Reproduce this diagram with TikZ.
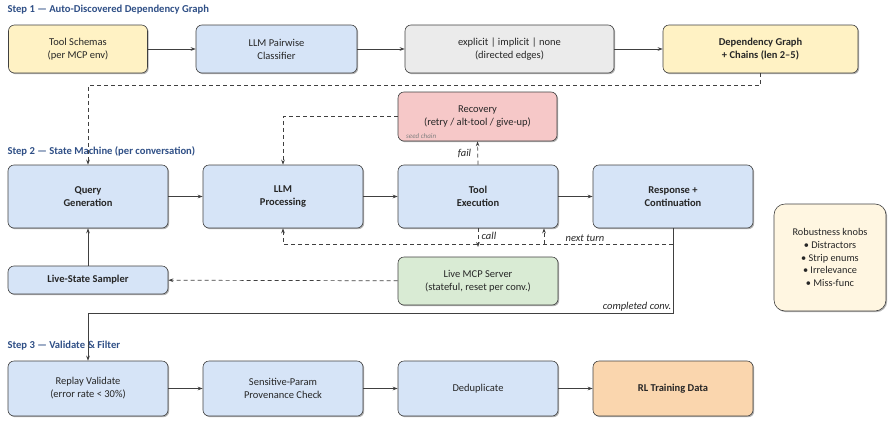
\documentclass[tikz,border=0pt]{standalone}
\usepackage{fontspec}
\setmainfont{Carlito}
\usepackage{tikz}
\usetikzlibrary{positioning,arrows.meta,calc,shadows}
\definecolor{pbblue}{HTML}{D6E4F7}
\definecolor{pbyellow}{HTML}{FFF2C4}
\definecolor{pbgray}{HTML}{EBEBEB}
\definecolor{pbpink}{HTML}{F6C8C8}
\definecolor{pbgreen}{HTML}{D9EBD4}
\definecolor{pborange}{HTML}{FAD6AE}
\definecolor{pbcream}{HTML}{FFF6E1}
\definecolor{pbtitle}{HTML}{2F4F86}
\definecolor{pbline}{HTML}{404040}

\begin{document}
\begin{tikzpicture}[x=1pt,y=-1pt,font=\fontsize{10.5}{13}\selectfont,
  box/.style={draw=pbline,line width=0.6pt,rounded corners=6pt,align=center,
    minimum width=160pt,minimum height=63pt,inner sep=2pt,text=black!85,
    drop shadow={shadow xshift=1.2pt,shadow yshift=-1.2pt,opacity=0.3,fill=black}},
  boldbox/.style={box,font=\fontsize{10.5}{13}\selectfont\bfseries},
  flow/.style={draw=pbline,line width=0.7pt,-{Stealth[length=5pt,width=3.6pt]}},
  dflow/.style={flow,dash pattern=on 4pt off 3pt},
  steptitle/.style={anchor=west,font=\fontsize{10.6}{12}\selectfont\bfseries,text=pbtitle},
  edgelbl/.style={font=\fontsize{10.5}{12}\selectfont\itshape,text=black!85}]
  \useasboundingbox (0,0) rectangle (894,426);
  % step 1
  \node[steptitle] (t1) at (4,10) {Step 1 --- Auto-Discovered Dependency Graph};
  \node[box,fill=pbyellow,minimum width=139pt,minimum height=48pt] (schemas) at (78,49) {Tool Schemas\\(per MCP env)};
  \node[box,fill=pbblue,minimum width=161pt,minimum height=48pt] (pairwise) at (276.5,49) {LLM Pairwise\\Classifier};
  \node[box,fill=pbgray,minimum width=209pt,minimum height=48pt] (edgetype) at (509.5,49) {explicit \textbar{} implicit \textbar{} none\\(directed edges)};
  \node[boldbox,fill=pbyellow,minimum width=195pt,minimum height=48pt] (depgraph) at (760.5,49) {Dependency Graph\\+ Chains (len 2--5)};
  % step 2
  \node[steptitle] (t2) at (4,151) {Step 2 --- State Machine (per conversation)};
  \node[box,fill=pbpink,minimum width=159pt,minimum height=49pt] (recovery) at (477.5,116.5) {Recovery\\(retry / alt-tool / give-up)};
  \node[anchor=south west,inner sep=0pt,font=\fontsize{7}{8}\selectfont\itshape,text=black!50] (seed) at (406,139) {seed chain};
  \node[boldbox,fill=pbblue] (querygen) at (88,196.5) {Query\\Generation};
  \node[boldbox,fill=pbblue] (llmproc) at (283,196.5) {LLM\\Processing};
  \node[boldbox,fill=pbblue] (toolexec) at (478,196.5) {Tool\\Execution};
  \node[boldbox,fill=pbblue] (response) at (673,196.5) {Response +\\Continuation};
  \node[boldbox,fill=pbblue,minimum height=28pt] (sampler) at (88,280) {Live-State Sampler};
  \node[box,fill=pbgreen,minimum height=48pt] (mcpserver) at (478,281) {Live MCP Server\\(stateful, reset per conv.)};
  \node[box,fill=pbcream,rounded corners=11pt,minimum width=112pt,minimum height=107pt,font=\fontsize{10.3}{12.6}\selectfont] (knobs) at (830,257.5) {Robustness knobs\\\textbullet{} Distractors\\\textbullet{} Strip enums\\\textbullet{} Irrelevance\\\textbullet{} Miss-func};
  % step 3
  \node[steptitle] (t3) at (4,346) {Step 3 --- Validate \& Filter};
  \node[box,fill=pbblue,minimum height=55pt] (replay) at (88,388.5) {Replay Validate\\(error rate < 30\%)};
  \node[box,fill=pbblue,minimum height=55pt] (provenance) at (283,388.5) {Sensitive-Param\\Provenance Check};
  \node[box,fill=pbblue,minimum height=55pt] (dedup) at (478,388.5) {Deduplicate};
  \node[boldbox,fill=pborange,minimum height=55pt] (rldata) at (673,388.5) {RL Training Data};
  % connectors
  \draw[flow] (schemas) -- (pairwise);
  \draw[flow] (pairwise) -- (edgetype);
  \draw[flow] (edgetype) -- (depgraph);
  \draw[dflow] (depgraph.south) -- ++(0,12) -| (querygen.north);
  \draw[flow] (querygen) -- (llmproc);
  \draw[flow] (llmproc) -- (toolexec);
  \draw[flow] (toolexec) -- (response);
  \draw[dflow] (recovery.west) -| (llmproc.north);
  \draw[dflow] (toolexec.north) -- node[edgelbl,left=3pt] {fail} (recovery.south);
  \coordinate (callend) at (478,247);
  \draw[dflow] (toolexec.south) -- node[edgelbl,right=0pt,pos=0.4] {call} (callend);
  \coordinate (turnstart) at (673,244);
  \draw[dflow] (turnstart) -| (llmproc.south);
  \coordinate (turnup) at (544,244);
  \draw[dflow] (turnup) -- (turnup |- toolexec.south);
  \node[edgelbl] (nextlbl) at (585,238) {next turn};
  \draw[flow] (sampler) -- (querygen);
  \draw[dflow] (mcpserver) -- (sampler);
  \draw[flow] (response.south) -- ++(0,85) coordinate (donecorner) -| (replay.north);
  \node[edgelbl,anchor=south east,inner sep=1.5pt] (donelbl) at (donecorner) {completed conv.};
  \draw[flow] (replay) -- (provenance);
  \draw[flow] (provenance) -- (dedup);
  \draw[flow] (dedup) -- (rldata);
\end{tikzpicture}
\end{document}
